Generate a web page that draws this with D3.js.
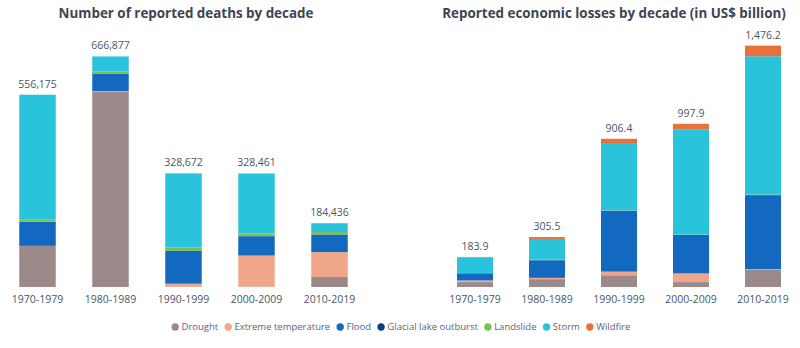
<!DOCTYPE html>
<html>
<head>
<meta charset="utf-8">
<script src="https://cdn.jsdelivr.net/npm/d3@7"></script>
<style>
body { margin: 0; background: #fff; }
svg { font-family: "Open Sans", "Noto Sans", sans-serif; }
</style>
</head>
<body>
<div id="plot"></div>
<script>
var decades = ["1970-1979", "1980-1989", "1990-1999", "2000-2009", "2010-2019"];
var hazards = ["Drought", "Extreme temperature", "Flood", "Glacial lake outburst", "Landslide", "Storm", "Wildfire"];
var colors = ["#9c8a8a", "#f0a689", "#1269bf", "#0d3f7a", "#79c150", "#29c4dc", "#e8703a"];

// deaths per hazard, one value per decade
var deathsDrought   = [119000, 565000, 1500, 1000, 29000];
var deathsExtreme   = [0, 1500, 8000, 90000, 72000];
var deathsFlood     = [70000, 51000, 95000, 56000, 50000];
var deathsGlacial   = [0, 0, 1000, 0, 1000];
var deathsLandslide = [6000, 5500, 9000, 8000, 7000];
var deathsStorm     = [361175, 43877, 214172, 173461, 25436];
var deathsWildfire  = [0, 0, 0, 0, 0];
var deathTotals = ["556,175", "666,877", "328,672", "328,461", "184,436"];

// economic losses per hazard (US$ billion)
var lossDrought   = [30, 48, 72, 30, 104];
var lossExtreme   = [10, 8, 22, 53, 5];
var lossFlood     = [44, 108, 373, 235, 453];
var lossGlacial   = [0, 0, 0, 0, 0];
var lossLandslide = [0, 3, 2, 2, 3];
var lossStorm     = [98, 127, 406.4, 642.9, 846.2];
var lossWildfire  = [1.9, 11.5, 31, 35, 65];
var lossTotals = ["183.9", "305.5", "906.4", "997.9", "1,476.2"];

var svg = d3.select("#plot").append("svg")
	.attr("width", 800)
	.attr("height", 348);

function buildRows(series) {
	return decades.map(function(d, i) {
		var row = {decade: d};
		hazards.forEach(function(h, j) { row[h] = series[j][i]; });
		return row;
	});
}

function drawPanel(title, titleX, series, totals, xRange, yMax) {
	var g = svg.append("g");
	var x = d3.scaleBand().domain(decades).range(xRange).paddingInner(0.5).paddingOuter(0.25);
	var y = d3.scaleLinear().domain([0, yMax]).range([287, 45]);

	var rows = buildRows(series);
	var stacked = d3.stack().keys(hazards)(rows);

	g.append("g")
		.selectAll("g")
		.data(stacked)
		.enter().append("g")
		.style("fill", function(d, i) { return colors[i]; })
		.selectAll("rect")
		.data(function(d) { return d; })
		.enter().append("rect")
		.attr("x", function(d) { return x(d.data.decade); })
		.attr("y", function(d) { return y(d[1]); })
		.attr("height", function(d) { return y(d[0]) - y(d[1]); })
		.attr("width", x.bandwidth());

	var top = stacked[stacked.length - 1];
	g.selectAll(".total")
		.data(top)
		.enter().append("text")
		.attr("class", "total")
		.attr("x", function(d) { return x(d.data.decade) + x.bandwidth() / 2; })
		.attr("y", function(d) { return y(d[1]) - 7; })
		.attr("text-anchor", "middle")
		.style("font-size", "10.5px")
		.style("fill", "#4a5567")
		.text(function(d, i) { return totals[i]; });

	var axis = g.append("g")
		.attr("transform", "translate(0,287)")
		.call(d3.axisBottom(x).tickSize(0).tickPadding(9));
	axis.select(".domain").remove();
	axis.selectAll("text")
		.style("font-size", "10.5px")
		.style("font-family", "'Open Sans', 'Noto Sans', sans-serif")
		.style("fill", "#4a5567");

	g.append("text")
		.attr("x", titleX)
		.attr("y", 17.5)
		.attr("text-anchor", "middle")
		.style("font-size", "13.4px")
		.style("font-weight", "bold")
		.style("fill", "#3d4552")
		.text(title);
}

drawPanel("Number of reported deaths by decade", 186,
	[deathsDrought, deathsExtreme, deathsFlood, deathsGlacial, deathsLandslide, deathsStorm, deathsWildfire],
	deathTotals, [1, 366], 700000);

drawPanel("Reported economic losses by decade (in US$ billion)", 614,
	[lossDrought, lossExtreme, lossFlood, lossGlacial, lossLandslide, lossStorm, lossWildfire],
	lossTotals, [439, 799], 1480);

// legend
var legend = svg.append("g").attr("transform", "translate(0,327)");
var lx = 171.5;
hazards.forEach(function(h, i) {
	legend.append("circle")
		.attr("cx", lx + 3.7)
		.attr("cy", 0)
		.attr("r", 3.7)
		.style("fill", colors[i]);
	var t = legend.append("text")
		.attr("x", lx + 10)
		.attr("y", 3.3)
		.style("font-size", "9.5px")
		.style("fill", "#5a6474")
		.text(h);
	lx += 10 + t.node().getComputedTextLength() + 6.3;
});
</script>
</body>
</html>
